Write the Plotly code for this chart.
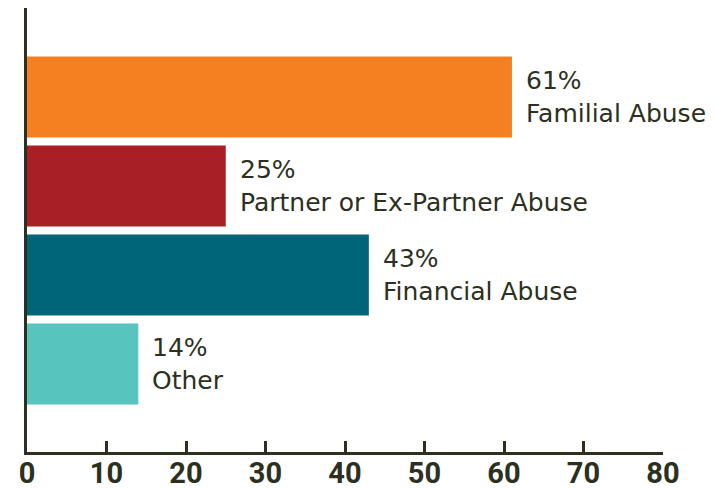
import plotly.graph_objects as go

categories = ["Familial Abuse", "Partner or Ex-Partner Abuse", "Financial Abuse", "Other"]
values = [61, 25, 43, 14]
colors = ["#F58021", "#A81F25", "#006579", "#57C4BD"]
x_ticks = [0, 10, 20, 30, 40, 50, 60, 70, 80]

ink = "#2C3020"

fig = go.Figure(go.Bar(
    x=values, y=categories, orientation="h",
    marker=dict(color=colors, line=dict(width=0)),
    width=0.91, hoverinfo="skip",
))

for v, c in zip(values, categories):
    fig.add_annotation(
        x=v, y=c, xref="x", yref="y", text=f"{v}%<br>{c}",
        showarrow=False, xanchor="left", yanchor="middle", align="left",
        xshift=12, font=dict(family="DejaVu Sans", size=25, color=ink),
    )

# page body has an 8px default margin, so the figure is sized to fit the window
fig.update_layout(
    width=707, height=480,
    margin=dict(l=19, r=52, t=0, b=36),
    paper_bgcolor="white", plot_bgcolor="white",
    showlegend=False,
    bargap=0.09,
)
fig.update_xaxes(
    range=[0, 80], tickvals=x_ticks, ticktext=[str(t) for t in x_ticks],
    showgrid=False, zeroline=False, automargin=False,
    showline=True, linecolor=ink, linewidth=3,
    ticks="inside", ticklen=11, tickwidth=2.5, tickcolor=ink,
    ticklabelstandoff=-7,
    tickfont=dict(family="Roboto, sans-serif", size=29, color=ink, weight="bold"),
)
fig.update_yaxes(
    range=[3.99, -1.0], categoryorder="array", categoryarray=categories,
    showticklabels=False, showgrid=False, zeroline=False, automargin=False,
    showline=True, linecolor=ink, linewidth=3, ticks="",
)

fig.write_html("out.html")
